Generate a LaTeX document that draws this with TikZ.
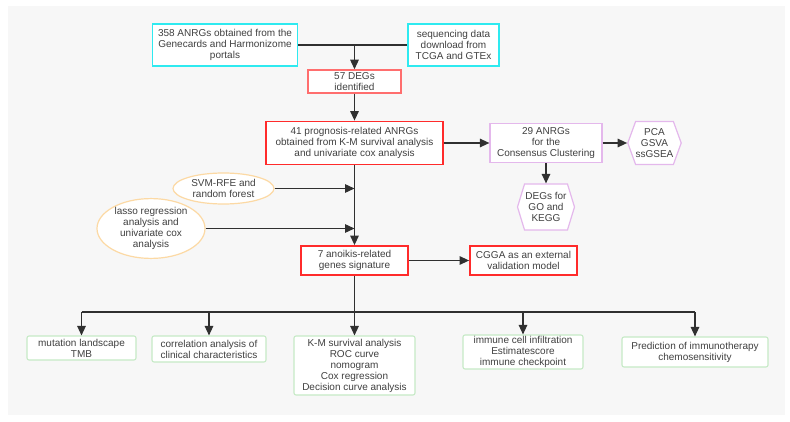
\documentclass[tikz,border=0pt]{standalone}
\usepackage{fontspec}
\setmainfont{Liberation Sans}
\usetikzlibrary{arrows.meta,shapes.geometric,shapes.symbols}

\definecolor{bggray}{HTML}{F7F7F7}
\definecolor{txtgray}{HTML}{404040}
\definecolor{linegray}{HTML}{303030}
\definecolor{boxcyan}{HTML}{2EEAF0}
\definecolor{boxred}{HTML}{FF2B2B}
\definecolor{boxredlight}{HTML}{FF6E6E}
\definecolor{boxviolet}{HTML}{E4B8EC}
\definecolor{boxorange}{HTML}{FCD9A4}
\definecolor{boxgreen}{HTML}{C6EAC6}

\begin{document}
\begin{tikzpicture}[x=1pt,y=-1pt,
    every node/.style={font=\fontsize{10}{11}\selectfont, text=txtgray, align=center, inner sep=0pt},
    box/.style={rectangle, fill=white, draw},
    cyanbox/.style={box, draw=boxcyan, line width=1.6pt},
    redbox/.style={box, draw=boxred, line width=1.8pt},
    violetbox/.style={box, draw=boxviolet, line width=1.2pt},
    greenbox/.style={box, draw=boxgreen, line width=1.1pt, rounded corners=2pt},
    hexa/.style={shape=signal, signal to=east and west, fill=white, draw=boxviolet, line width=1.2pt},
    oval/.style={ellipse, fill=white, draw=boxorange, line width=1.2pt},
    link/.style={draw=linegray, line width=1.3pt},
    arrow/.style={link, -{Triangle[length=9.5pt,width=8.5pt]}}
]

% background
\fill[white] (0,0) rectangle (790,422);
\fill[bggray] (8,6) rectangle (785,415);
\useasboundingbox (0,0) rectangle (790,422);

% sources
\node[cyanbox, minimum width=145pt, minimum height=42pt] (anrg358) at (225,45)
    {358 ANRGs obtained from the\\Genecards and Harmonizome\\portals};
\node[cyanbox, minimum width=91pt, minimum height=42pt] (seqdata) at (453.5,45)
    {sequencing data\\download from\\TCGA and GTEx};

% main line
\node[box, draw=boxredlight, line width=1.5pt, minimum width=93pt, minimum height=23pt] (deg57) at (354.5,81.5)
    {57 DEGs\\identified};
\node[redbox, minimum width=177pt, minimum height=43pt] (anrg41) at (354.5,143)
    {41 prognosis-related ANRGs\\obtained from K-M survival analysis\\and univariate cox analysis};
\node[redbox, minimum width=107pt, minimum height=29pt] (sig7) at (354.5,260.5)
    {7 anoikis-related\\genes signature};
\node[redbox, minimum width=107pt, minimum height=29pt] (cgga) at (523.5,260.5)
    {CGGA as an external\\validation model};

% clustering branch
\node[violetbox, minimum width=112pt, minimum height=39pt] (anrg29) at (546,143)
    {29 ANRGs\\for the\\Consensus Clustering};
\node[hexa, signal pointer angle=140, minimum width=53pt, minimum height=43pt] (pcabox) at (654.5,143)
    {PCA\\GSVA\\ssGSEA};
\node[hexa, signal pointer angle=146, minimum width=57pt, minimum height=46pt] (degsgo) at (546,207)
    {DEGs for\\GO and\\KEGG};

% methods
\node[oval, minimum width=101pt, minimum height=31pt] (svm) at (223.5,188.5)
    {SVM-RFE and\\random forest};
\node[oval, minimum width=108pt, minimum height=49pt] (lasso) at (151,228.5)
    {lasso regression\\analysis and\\univariate cox\\analysis};

% results
\node[greenbox, minimum width=109pt, minimum height=24pt] (mutation) at (81.5,348)
    {mutation landscape\\TMB};
\node[greenbox, minimum width=114pt, minimum height=26pt] (clinical) at (209,349)
    {correlation analysis of\\clinical characteristics};
\node[greenbox, minimum width=121pt, minimum height=59pt] (kmroc) at (354.5,365.5)
    {K-M survival analysis\\ROC curve\\nomogram\\Cox regression\\Decision curve analysis};
\node[greenbox, minimum width=120pt, minimum height=34pt] (immune) at (523,352)
    {immune cell infiltration\\Estimatescore\\immune checkpoint};
\node[greenbox, minimum width=146pt, minimum height=30pt] (predict) at (695,352)
    {Prediction of immunotherapy\\chemosensitivity};

% connectors
\coordinate (join) at (deg57.north |- anrg358.east);
\coordinate (bus) at (354.5,312);
\draw[link] (anrg358.east) -- (seqdata.west);
\draw[arrow] (join) -- (deg57.north);
\draw[arrow] (deg57.south) -- (anrg41.north);
\draw[arrow] (anrg41.east) -- (anrg29.west);
\draw[arrow] (anrg29.east) -- (pcabox.west);
\draw[arrow] (anrg29.south) -- (degsgo.north);
\draw[arrow] (anrg41.south) -- (sig7.north);
\draw[arrow] (svm.east) -- (svm.east -| sig7.north);
\draw[arrow] (lasso.east) -- (lasso.east -| sig7.north);
\draw[arrow] (sig7.east) -- (cgga.west);
\draw[arrow] (sig7.south) -- (kmroc.north);
\draw[link] (mutation.north |- bus) -- (predict.north |- bus);
\draw[arrow] (mutation.north |- bus) -- (mutation.north);
\draw[arrow] (clinical.north |- bus) -- (clinical.north);
\draw[arrow] (immune.north |- bus) -- (immune.north);
\draw[arrow] (predict.north |- bus) -- (predict.north);

\end{tikzpicture}
\end{document}
